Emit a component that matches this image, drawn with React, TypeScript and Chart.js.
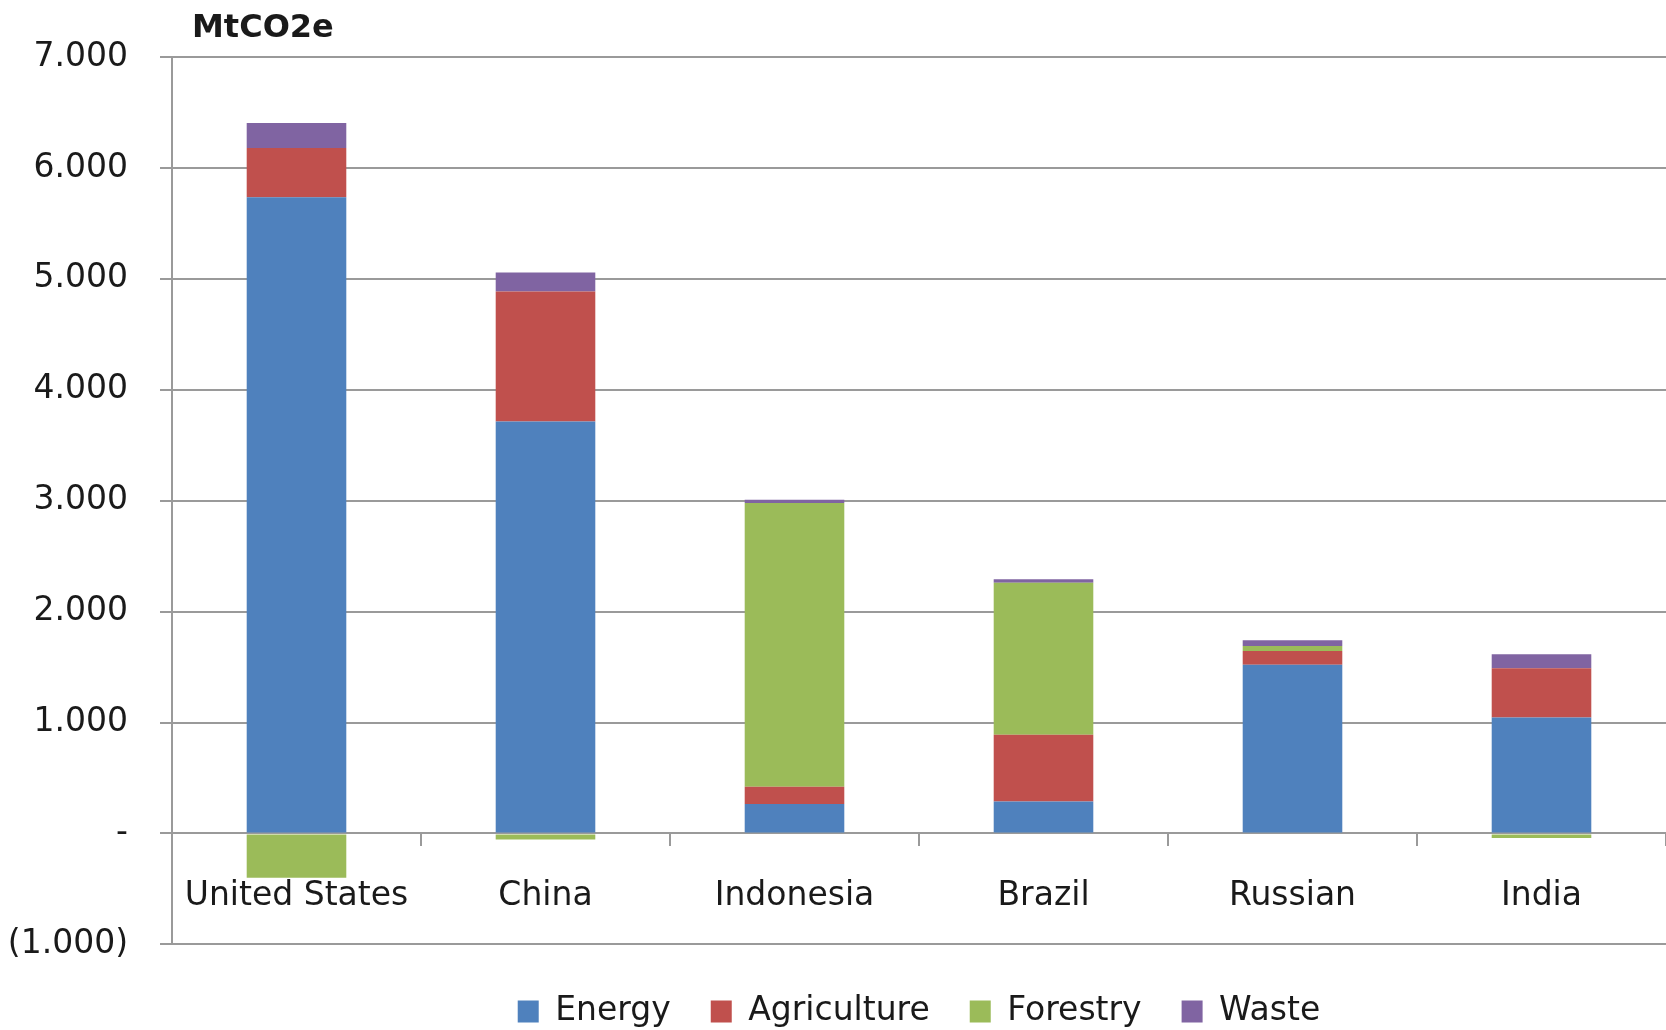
import React, { useEffect, useRef } from "react";
import { Chart, registerables } from "chart.js";

Chart.register(...registerables);

const categories = ["United States", "China", "Indonesia", "Brazil", "Russian", "India"];
const energy = [5735, 3715, 265, 288, 1520, 1045];
const agriculture = [445, 1170, 157, 601, 126, 445];
const forestry = [-400, -55, 2558, 1372, 45, -40];
const waste = [225, 172, 29, 30, 51, 126];
const seriesNames = ["Energy", "Agriculture", "Forestry", "Waste"];
const seriesColors = ["#4F81BD", "#C0504D", "#9BBB59", "#8064A2"];
const unitLabel = "MtCO2e";

const FONT = '"DejaVu Sans", sans-serif';
const TEXT = "#1a1a1a";
const GRID = "#9a9a9a";

function fmtThousands(n: number): string {
  return String(Math.round(n)).replace(/\B(?=(\d{3})+(?!\d))/g, ".");
}

function tickLabel(v: number): string {
  if (v === 0) return "-";
  if (v < 0) return "(" + fmtThousands(-v) + ")";
  return fmtThousands(v);
}

const unitTitlePlugin = {
  id: "unitTitle",
  afterDraw(chart: any) {
    const ctx = chart.ctx;
    ctx.save();
    ctx.font = "bold 32px " + FONT;
    ctx.fillStyle = TEXT;
    ctx.textAlign = "left";
    ctx.textBaseline = "middle";
    ctx.fillText(unitLabel, 192, 29);
    ctx.restore();
  },
};

export default function App() {
  const canvasRef = useRef<HTMLCanvasElement | null>(null);

  useEffect(() => {
    document.body.style.margin = "0";
    document.body.style.overflow = "hidden";
    const canvas = canvasRef.current;
    if (!canvas) return;
    const values = [energy, agriculture, forestry, waste];
    const chart = new Chart(canvas, {
      type: "bar",
      data: {
        labels: categories,
        datasets: values.map((d, i) => ({
          label: seriesNames[i],
          data: d,
          backgroundColor: seriesColors[i],
          borderWidth: 0,
          categoryPercentage: 1,
          barPercentage: 0.4,
        })),
      },
      options: {
        animation: false,
        responsive: true,
        maintainAspectRatio: false,
        layout: { padding: { top: 57, left: 0, right: 0, bottom: -8 } },
        plugins: {
          title: { display: false },
          tooltip: { enabled: false },
          legend: {
            display: true,
            position: "bottom",
            fullSize: false,
            title: {
              display: true,
              text: " ",
              font: { family: FONT, size: 8 },
              padding: { top: 0, bottom: 1 },
            },
            labels: {
              font: { family: FONT, size: 33 },
              color: TEXT,
              boxWidth: 21,
              boxHeight: 22,
              padding: 40,
            },
          },
        },
        scales: {
          x: {
            stacked: true,
            position: { y: 0 } as any,
            grid: {
              display: true,
              drawOnChartArea: false,
              drawTicks: true,
              tickLength: 12,
              color: GRID,
              lineWidth: 2,
              offset: true,
            },
            border: { display: true, color: GRID, width: 2 },
            ticks: {
              font: { family: FONT, size: 33 },
              color: TEXT,
              padding: 31,
              maxRotation: 0,
              autoSkip: false,
            },
          },
          y: {
            stacked: true,
            min: -1000,
            max: 7000,
            afterFit: (scale: any) => {
              scale.width = 172;
            },
            grid: {
              color: GRID,
              lineWidth: 2,
              drawTicks: true,
              tickLength: 12,
            },
            border: { display: true, color: GRID, width: 2 },
            ticks: {
              stepSize: 1000,
              font: { family: FONT, size: 33 },
              color: TEXT,
              padding: 32,
              callback: (v: any) => tickLabel(Number(v)),
            },
          },
        },
      },
      plugins: [unitTitlePlugin],
    });
    return () => chart.destroy();
  }, []);

  return (
    <div style={{ position: "relative", width: "1666px", height: "1030px" }}>
      <canvas ref={canvasRef} />
    </div>
  );
}
